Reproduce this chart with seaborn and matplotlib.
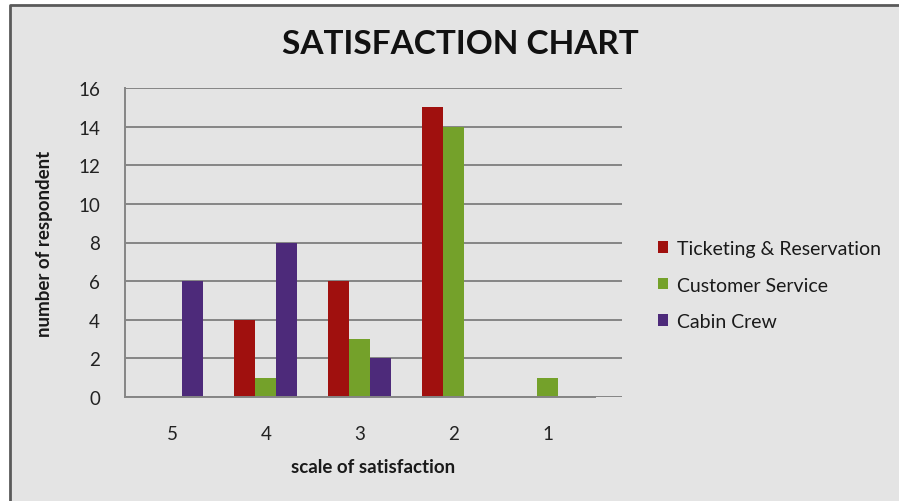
import pandas as pd
import matplotlib
matplotlib.use("Agg")
import matplotlib.pyplot as plt
import matplotlib.patches as mpatches
import matplotlib.lines as mlines
import seaborn as sns

scale = ["5", "4", "3", "2", "1"]
ticketing = [0, 4, 6, 15, 0]
customer_service = [0, 1, 3, 14, 1]
cabin_crew = [6, 8, 2, 0, 0]
series = ["Ticketing & Reservation", "Customer Service", "Cabin Crew"]
colors = ["#a0100e", "#74a12a", "#4d2a7a"]

df = pd.DataFrame({
    "scale": scale * 3,
    "count": ticketing + customer_service + cabin_crew,
    "series": [s for s in series for _ in scale],
})

sns.set_theme(style="white")
plt.rcParams["font.family"] = ["Lato", "DejaVu Sans"]

fig = plt.figure(figsize=(8.99, 5.02), dpi=100)
fig.patch.set_facecolor("white")
x0, y0 = 10 / 899, 1 - 6 / 502
fig.patches.append(mpatches.Rectangle((x0, 0), 1 - x0, y0, transform=fig.transFigure,
                                      facecolor="#e4e4e4", linewidth=0, zorder=-10))
# chart frame: only top and left edges are inside the picture
fig.lines.append(mlines.Line2D([x0, x0, 1], [0, y0, y0], transform=fig.transFigure,
                               color="#5a5a5a", linewidth=2, zorder=-9))

ax = fig.add_axes([125 / 899, 1 - 398 / 502, (622 - 125) / 899, (398 - 89) / 502])
ax.set_facecolor("none")

sns.barplot(data=df, x="scale", y="count", hue="series", order=scale,
            hue_order=series, palette=colors, width=0.67, saturation=1,
            linewidth=0, ax=ax, legend=True)

ax.set_ylim(0, 16)
ax.set_yticks(range(0, 17, 2))
ax.set_xlim(-0.5, 4.79)
ax.yaxis.grid(True, color="#858585", linewidth=1.4)
ax.set_axisbelow(True)
for s in ["top", "right"]:
    ax.spines[s].set_visible(False)
ax.spines["left"].set_color("#858585")
ax.spines["left"].set_linewidth(1.4)
ax.spines["bottom"].set_color("#858585")
ax.spines["bottom"].set_linewidth(1.4)
ax.spines["bottom"].set_bounds(-0.5, 4.5)
ax.tick_params(axis="y", direction="out", length=7, width=1.4, color="#858585",
               labelsize=13.5, labelcolor="#222222", pad=11)
ax.tick_params(axis="x", length=0, labelsize=13.5, labelcolor="#222222", pad=20)

ax.set_xlabel("scale of satisfaction", fontsize=13.5, fontweight="bold",
              color="#1a1a1a", labelpad=12)
ax.set_ylabel("number of respondent", fontsize=13.5, fontweight="bold",
              color="#1a1a1a", labelpad=18)

fig.text(460 / 899, 1 - 45 / 502, "SATISFACTION CHART", ha="center", va="center",
         fontsize=24, fontweight="bold", color="#111111")

handles, labels = ax.get_legend_handles_labels()
ax.get_legend().remove()
fig.legend(handles, labels, loc="center left",
           bbox_to_anchor=(640 / 899, 1 - 286 / 502), frameon=False,
           fontsize=14, handlelength=0.55, handleheight=0.55,
           handletextpad=0.45, labelspacing=1.0, labelcolor="#1a1a1a")

fig.savefig("out.png", dpi=100, facecolor=fig.get_facecolor())
